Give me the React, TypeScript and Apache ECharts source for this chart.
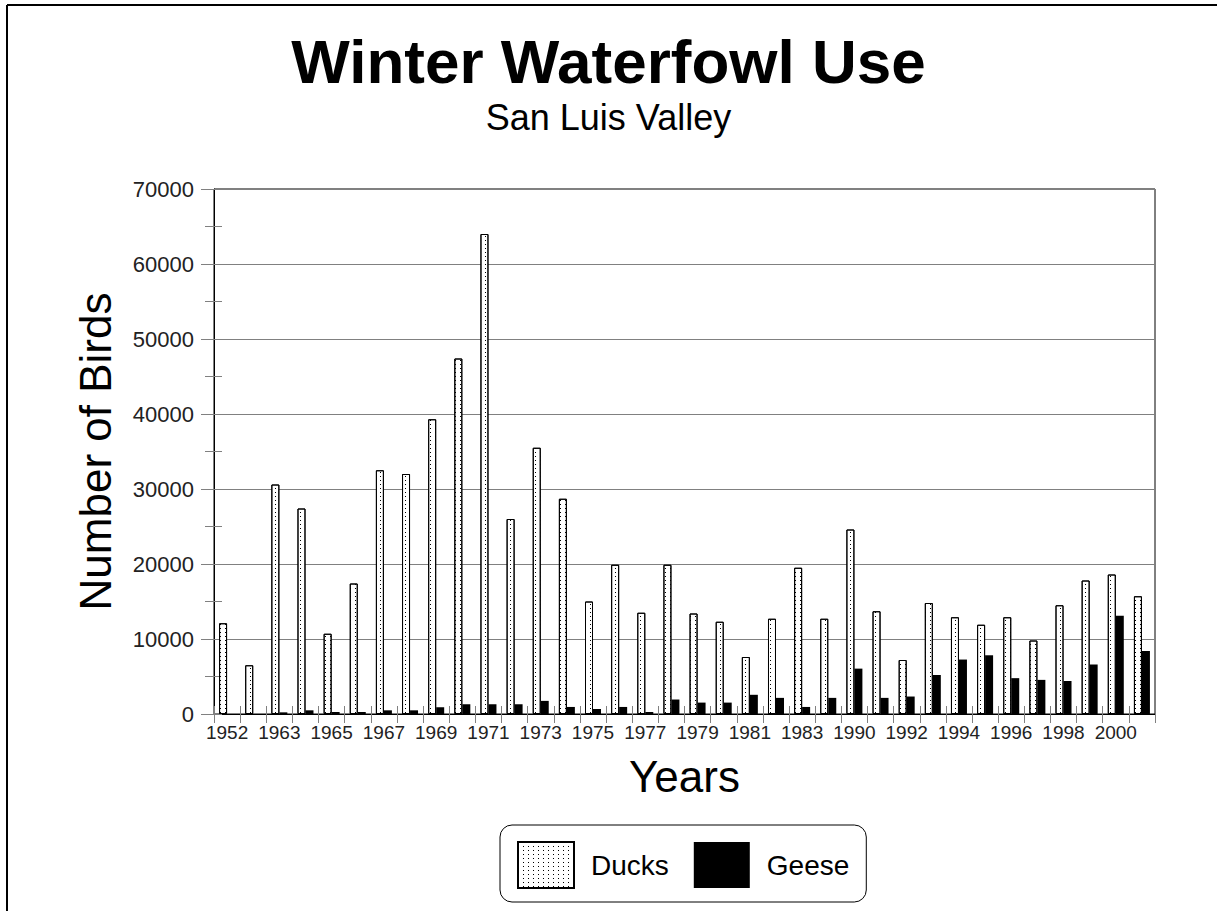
import React, { useEffect, useRef } from "react";
import * as echarts from "echarts";

const years = [
  "1952", "1962", "1963", "1964", "1965", "1966", "1967", "1968", "1969", "1970",
  "1971", "1972", "1973", "1974", "1975", "1976", "1977", "1978", "1979", "1980",
  "1981", "1982", "1983", "1984", "1990", "1991", "1992", "1993", "1994", "1995",
  "1996", "1997", "1998", "1999", "2000", "2001",
];

const ducks = [
  12100, 6500, 30600, 27400, 10700, 17400, 32500, 32000, 39300, 47400,
  64000, 26000, 35500, 28700, 15000, 19900, 13500, 19900, 13400, 12300,
  7600, 12700, 19500, 12700, 24600, 13700, 7200, 14800, 12900, 11900,
  12900, 9800, 14500, 17800, 18600, 15700,
];

const geese = [
  0, 0, 220, 490, 270, 270, 490, 490, 900, 1300,
  1300, 1300, 1750, 940, 670, 940, 270, 1930, 1520, 1520,
  2560, 2150, 940, 2150, 6050, 2150, 2330, 5200, 7260, 7830,
  4780, 4550, 4400, 6600, 13100, 8400,
];

const seriesNames = ["Ducks", "Geese"];
const titleText = "Winter Waterfowl Use";
const subtitleText = "San Luis Valley";
const yAxisTitle = "Number of Birds";
const xAxisTitle = "Years";

const FONT = "Liberation Sans, Arial, sans-serif";

export default function App() {
  const ref = useRef<HTMLDivElement>(null);

  useEffect(() => {
    document.body.style.margin = "0";
    if (!ref.current) return;
    const chart = echarts.init(ref.current, null, { renderer: "svg" });

    const duckDecal = {
      symbol: "rect",
      symbolSize: 1,
      color: "#000",
      backgroundColor: "#fff",
      dashArrayX: [1, 4],
      dashArrayY: [1, 3],
      rotation: 0,
    };

    chart.setOption({
      animation: false,
      backgroundColor: "#fff",
      textStyle: { fontFamily: FONT },
      title: {
        text: titleText,
        subtext: subtitleText,
        left: "center",
        top: 30,
        padding: 0,
        itemGap: 7,
        textStyle: { fontSize: 62, fontWeight: "bold", color: "#000", fontFamily: FONT },
        subtextStyle: { fontSize: 36, color: "#000", fontFamily: FONT },
      },
      legend: {
        data: seriesNames,
        left: 500,
        top: 825,
        orient: "horizontal",
        padding: [16, 17, 13, 17],
        itemWidth: 56,
        itemHeight: 46,
        itemGap: 25,
        borderColor: "#000",
        borderWidth: 1,
        borderRadius: 12,
        icon: "rect",
        textStyle: { fontSize: 28, color: "#000", fontFamily: FONT, padding: [0, 0, 0, 12] },
      },
      grid: {
        left: 214,
        right: 62,
        top: 189,
        bottom: 197,
        show: true,
        borderColor: "#000",
        borderWidth: 1,
        backgroundColor: "transparent",
        containLabel: false,
      },
      xAxis: [
        {
          type: "category",
          data: years,
          boundaryGap: true,
          name: xAxisTitle,
          nameLocation: "middle",
          nameGap: 40,
          nameTextStyle: { fontSize: 44, color: "#000", fontFamily: FONT },
          axisLine: { show: true, lineStyle: { color: "#000", width: 1 } },
          axisTick: { show: true, inside: false, length: 9, interval: 0, lineStyle: { color: "#808080" } },
          axisLabel: { interval: 1, fontSize: 19, color: "#222", margin: 9, fontFamily: FONT },
          splitLine: { show: false },
        },
        {
          type: "category",
          data: years,
          position: "bottom",
          boundaryGap: true,
          axisLine: { show: false },
          axisTick: { show: true, inside: true, length: 8, interval: 0, lineStyle: { color: "#808080" } },
          axisLabel: { show: false },
          splitLine: { show: false },
        },
      ],
      yAxis: [
        {
          type: "value",
          min: 0,
          max: 70000,
          interval: 10000,
          name: yAxisTitle,
          nameLocation: "middle",
          nameGap: 97,
          nameRotate: 90,
          nameTextStyle: { fontSize: 44, color: "#000", fontFamily: FONT },
          axisLine: { show: true, lineStyle: { color: "#000", width: 1 } },
          axisTick: { show: true, inside: false, length: 13, lineStyle: { color: "#808080" } },
          minorTick: { show: true, splitNumber: 2, length: 9, lineStyle: { color: "#808080" } },
          axisLabel: {
            fontSize: 22,
            color: "#222",
            margin: 20,
            fontFamily: FONT,
            formatter: (v: number) => String(v),
          },
          splitLine: { show: true, lineStyle: { color: "#808080", width: 1 } },
        },
        {
          type: "value",
          min: 0,
          max: 70000,
          interval: 5000,
          position: "left",
          axisLine: { show: false },
          axisTick: { show: true, inside: true, length: 8, lineStyle: { color: "#808080" } },
          axisLabel: { show: false },
          splitLine: { show: false },
        },
      ],
      series: [
        {
          name: seriesNames[0],
          type: "bar",
          data: ducks,
          barWidth: 8,
          barGap: "0%",
          itemStyle: {
            color: "#fff",
            borderColor: "#000",
            borderWidth: 1,
            decal: duckDecal,
          },
        },
        {
          name: seriesNames[1],
          type: "bar",
          data: geese,
          barWidth: 8,
          barGap: "0%",
          itemStyle: { color: "#000", borderWidth: 0 },
        },
      ],
      graphic: [
        { type: "line", shape: { x1: 7, y1: 5, x2: 1217, y2: 5 }, style: { stroke: "#000", lineWidth: 2 } },
        { type: "line", shape: { x1: 7, y1: 5, x2: 7, y2: 911 }, style: { stroke: "#000", lineWidth: 2 } },
      ],
    });

    return () => {
      chart.dispose();
    };
  }, []);

  return <div ref={ref} style={{ width: 1217, height: 911 }} />;
}
